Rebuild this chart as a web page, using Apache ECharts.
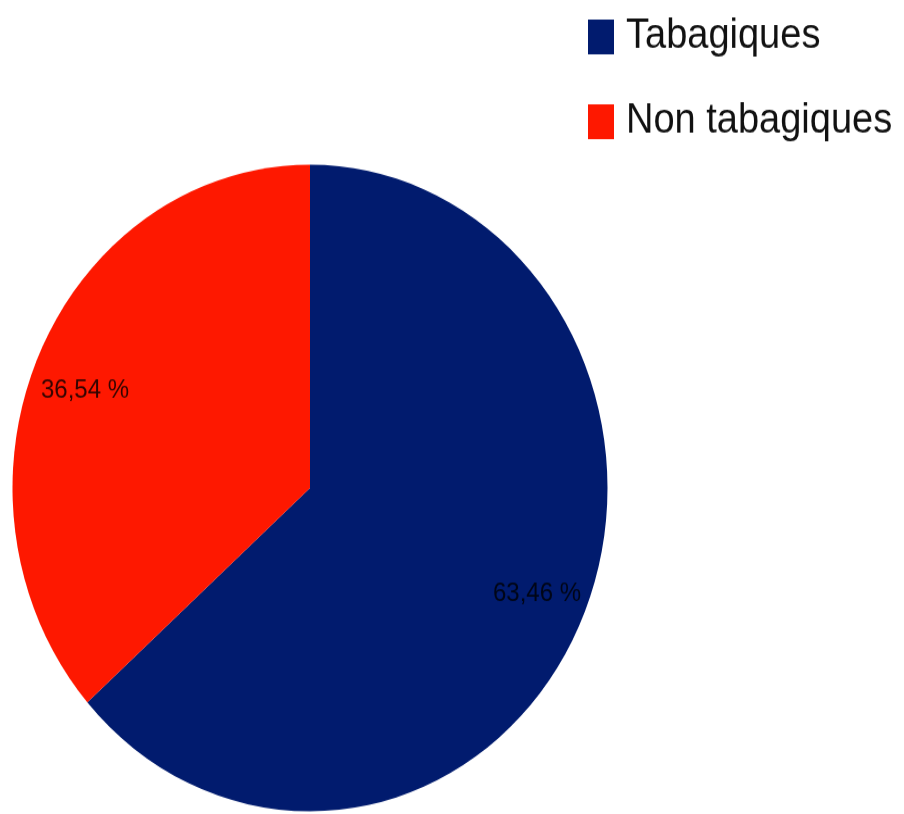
<!DOCTYPE html>
<html>
<head>
<meta charset="utf-8">
<script src="https://cdn.jsdelivr.net/npm/echarts@6/dist/echarts.min.js"></script>
<style>
  html, body { margin: 0; padding: 0; background: #fff; width: 904px; height: 814px; overflow: hidden; }
  #frame { position: relative; width: 904px; height: 814px; overflow: visible; }
  /* the chart is drawn a little taller than wide */
  #chart { position: absolute; left: 0; top: 0; width: 904px; height: 749px; transform: scaleY(1.0868); transform-origin: 0 0; }
</style>
</head>
<body>
<div id="frame"><div id="chart"></div></div>
<script>
const categories = ['Tabagiques', 'Non tabagiques'];
const shares = [63.46, 36.54];
const colors = ['#011b6e', '#fe1800'];
// small nudges of the percentage labels, per slice
const labelOffsets = [[2, -4], [0, 12]];

const fmt = p => p.value.toFixed(2).replace('.', ',') + ' %';

const chart = echarts.init(document.getElementById('chart'), null, { renderer: 'canvas' });
chart.setOption({
  animation: false,
  backgroundColor: '#ffffff',
  legend: {
    orient: 'vertical',
    left: 583,
    top: 10,
    itemWidth: 26,
    itemHeight: 32,
    itemGap: 40,
    icon: 'rect',
    selectedMode: false,
    textStyle: {
      fontFamily: 'Liberation Sans',
      fontSize: 38,
      color: '#111',
      padding: [0, 0, 0, 7]
    },
    data: categories
  },
  series: [
    {
      type: 'pie',
      center: [310, 449],
      radius: 297.5,
      startAngle: 90,
      clockwise: true,
      silent: true,
      label: { show: false },
      labelLine: { show: false },
      data: categories.map((name, i) => ({
        name: name,
        value: shares[i],
        itemStyle: { color: colors[i] }
      }))
    },
    {
      // transparent ring carrying the percentage labels further out
      type: 'pie',
      center: [310, 449],
      radius: [190, 297.5],
      startAngle: 90,
      clockwise: true,
      silent: true,
      itemStyle: { color: 'rgba(0,0,0,0)' },
      label: {
        show: true,
        position: 'inside',
        formatter: fmt,
        fontFamily: 'Liberation Sans',
        fontSize: 24,
        color: 'rgba(0,0,0,0.8)'
      },
      labelLine: { show: false },
      data: categories.map((name, i) => ({
        name: name,
        value: shares[i],
        label: { offset: labelOffsets[i] }
      }))
    }
  ]
});
</script>
</body>
</html>
